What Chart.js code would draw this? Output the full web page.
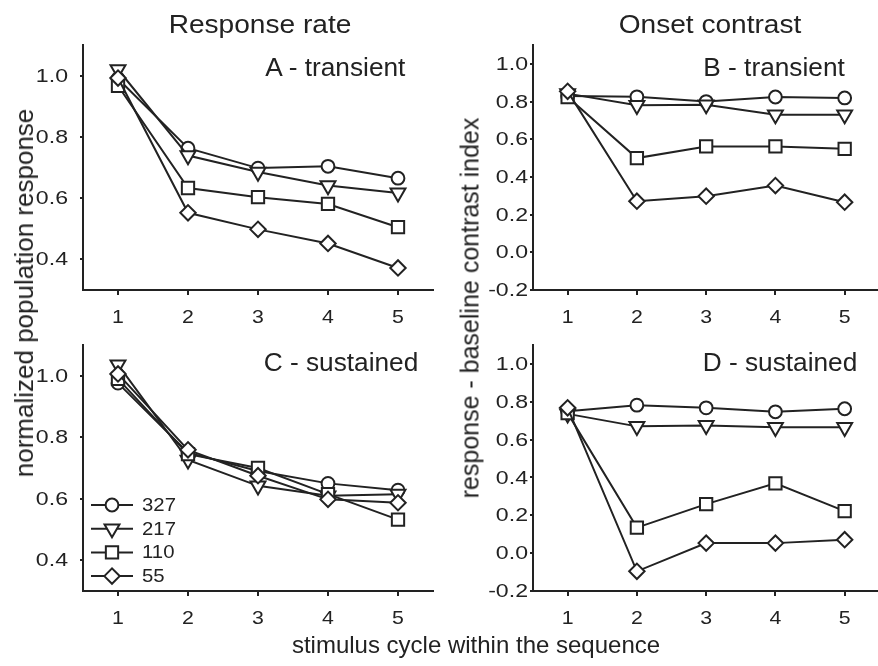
<!DOCTYPE html>
<html lang="en">
<head>
  <meta charset="UTF-8">
  <title>Response rate / Onset contrast</title>
  <script src="https://cdn.jsdelivr.net/npm/chart.js"></script>
  <style>
    html, body {
      margin: 0;
      padding: 0;
      width: 878px;
      height: 666px;
      overflow: hidden;
      background: #fff;
      font-family: "Liberation Sans", Arial, sans-serif;
      color: #222;
    }
    .panel {
      position: absolute;
    }
    .txt {
      position: absolute;
      white-space: nowrap;
      line-height: 1;
      z-index: 2;
    }
  </style>
</head>
<body>

  <div class="panel" style="left:0px; top:30px; width:445px; height:305px;"><canvas id="chartA"></canvas></div>
  <div class="panel" style="left:450px; top:30px; width:440px; height:305px;"><canvas id="chartB"></canvas></div>
  <div class="panel" style="left:0px; top:330px; width:445px; height:305px;"><canvas id="chartC"></canvas></div>
  <div class="panel" style="left:450px; top:330px; width:440px; height:305px;"><canvas id="chartD"></canvas></div>

  <div class="txt" style="left:260px; top:11px; font-size:26px; transform:translateX(-50%) scaleX(1.08);">Response rate</div>
  <div class="txt" style="left:710px; top:11px; font-size:26px; transform:translateX(-50%) scaleX(1.08);">Onset contrast</div>

  <div class="txt" style="right:473px; top:55px; font-size:25px; transform-origin:right; transform:scaleX(1.05);">A - transient</div>
  <div class="txt" style="right:33px; top:55px; font-size:25px; transform-origin:right; transform:scaleX(1.05);">B - transient</div>
  <div class="txt" style="right:460px; top:350px; font-size:25px; transform-origin:right; transform:scaleX(1.05);">C - sustained</div>
  <div class="txt" style="right:21px; top:350px; font-size:25px; transform-origin:right; transform:scaleX(1.05);">D - sustained</div>

  <div class="txt" style="left:24px; top:293px; font-size:26px; transform:translate(-50%,-50%) rotate(-90deg);">normalized population response</div>
  <div class="txt" style="left:470px; top:308px; font-size:25px; transform:translate(-50%,-50%) rotate(-90deg);">response - baseline contrast index</div>

  <div class="txt" style="left:476px; top:633px; font-size:24px; transform:translateX(-50%);">stimulus cycle within the sequence</div>

  <script>
    // x values (stimulus cycle) and tick labels
    const cycles = [1, 2, 3, 4, 5];
    const respTicks = [0.4, 0.6, 0.8, 1.0];
    const contrastTicks = [-0.2, 0.0, 0.2, 0.4, 0.6, 0.8, 1.0];

    const seriesNames = ['327', '217', '110', '55'];

    // A - transient, response rate
    const respTransient327 = [0.99, 0.763, 0.698, 0.704, 0.665];
    const respTransient217 = [1.02, 0.739, 0.685, 0.641, 0.617];
    const respTransient110 = [0.967, 0.633, 0.603, 0.581, 0.505];
    const respTransient55  = [0.992, 0.552, 0.498, 0.452, 0.372];

    // B - transient, onset contrast
    const contTransient327 = [0.83, 0.825, 0.80, 0.824, 0.819];
    const contTransient217 = [0.842, 0.78, 0.783, 0.73, 0.73];
    const contTransient110 = [0.824, 0.50, 0.562, 0.562, 0.549];
    const contTransient55  = [0.854, 0.271, 0.298, 0.354, 0.266];

    // C - sustained, response rate
    const respSustained327 = [0.976, 0.75, 0.69, 0.65, 0.628];
    const respSustained217 = [1.036, 0.726, 0.642, 0.61, 0.615];
    const respSustained110 = [0.99, 0.745, 0.70, 0.615, 0.532];
    const respSustained55  = [1.006, 0.759, 0.675, 0.598, 0.587];

    // D - sustained, onset contrast
    const contSustained327 = [0.75, 0.782, 0.768, 0.747, 0.763];
    const contSustained217 = [0.736, 0.67, 0.675, 0.665, 0.665];
    const contSustained110 = [0.74, 0.135, 0.259, 0.369, 0.222];
    const contSustained55  = [0.768, -0.096, 0.053, 0.053, 0.071];

    const INK = '#222';
    const FONT = '"Liberation Sans", Arial, sans-serif';

    // marker look per series: circle, down triangle, square, diamond
    const markers = [
      { pointStyle: 'circle', rotation: 0, radius: 6.4, order: 4 },
      { pointStyle: 'triangle', rotation: 180, radius: 8.6, order: 3 },
      { pointStyle: 'rect', rotation: 0, radius: 8.7, order: 2 },
      { pointStyle: 'rectRot', rotation: 0, radius: 7.7, order: 1 }
    ];

    function makeDatasets(lists) {
      return lists.map((vals, i) => ({
        label: seriesNames[i],
        data: vals.map((v, k) => ({ x: cycles[k], y: v })),
        borderColor: INK,
        borderWidth: 2,
        backgroundColor: '#fff',
        pointStyle: markers[i].pointStyle,
        pointRotation: markers[i].rotation,
        pointRadius: markers[i].radius,
        pointBorderWidth: 2,
        pointBackgroundColor: '#fff',
        pointBorderColor: INK,
        order: markers[i].order,
        tension: 0,
        fill: false
      }));
    }

    // tick labels drawn a bit wider, as in the original figure
    const tickText = {
      id: 'tickText',
      afterDraw(chart, args, opts) {
        const { ctx, scales: { x, y } } = chart;
        ctx.save();
        ctx.fillStyle = INK;
        ctx.font = '18.5px ' + FONT;
        y.ticks.forEach(t => {
          ctx.save();
          ctx.translate(y.right - opts.yGap, y.getPixelForValue(t.value));
          ctx.scale(1.25, 1);
          ctx.textAlign = 'right';
          ctx.textBaseline = 'middle';
          ctx.fillText(t.label, 0, 1);
          ctx.restore();
        });
        x.ticks.forEach(t => {
          ctx.save();
          ctx.translate(x.getPixelForValue(t.value), x.top + 19);
          ctx.scale(1.15, 1);
          ctx.textAlign = 'center';
          ctx.textBaseline = 'top';
          ctx.fillText(t.label, 0, 0);
          ctx.restore();
        });
        ctx.restore();
      }
    };

    // line + marker legend in the lower left corner of panel C
    const cornerLegend = {
      id: 'cornerLegend',
      afterDraw(chart, args, opts) {
        if (!opts.show) return;
        const { ctx, chartArea } = chart;
        const x0 = chartArea.left + 8, x1 = chartArea.left + 50;
        ctx.save();
        chart.data.datasets.forEach((ds, i) => {
          const y = chartArea.bottom - 86 + i * 23.7;
          ctx.strokeStyle = INK;
          ctx.lineWidth = 2;
          ctx.beginPath();
          ctx.moveTo(x0, y);
          ctx.lineTo(x1, y);
          ctx.stroke();
          ctx.fillStyle = '#fff';
          Chart.helpers.drawPoint(ctx, {
            pointStyle: ds.pointStyle,
            rotation: ds.pointRotation,
            radius: ds.pointRadius,
            borderWidth: 2
          }, (x0 + x1) / 2, y);
          ctx.save();
          ctx.fillStyle = INK;
          ctx.font = '18.5px ' + FONT;
          ctx.textBaseline = 'middle';
          ctx.translate(x1 + 9, y + 1);
          ctx.scale(1.1, 1);
          ctx.fillText(ds.label, 0, 0);
          ctx.restore();
        });
        ctx.restore();
      }
    };

    function makeChart(id, lists, yMin, yMax, yTicks, xAxisHeight, leftColumn, showLegend) {
      const ctx = document.getElementById(id).getContext('2d');
      return new Chart(ctx, {
        type: 'line',
        data: { datasets: makeDatasets(lists) },
        plugins: [tickText, cornerLegend],
        options: {
          responsive: true,
          maintainAspectRatio: false,
          animation: false,
          layout: { padding: { left: 0, top: 15, right: leftColumn ? 12 : 5, bottom: 0 } },
          plugins: {
            legend: { display: false },
            tooltip: { enabled: false },
            tickText: { yGap: leftColumn ? 15 : 5 },
            cornerLegend: { show: showLegend }
          },
          scales: {
            x: {
              type: 'linear',
              min: 0.5,
              max: 5.5,
              afterBuildTicks: s => { s.ticks = cycles.map(v => ({ value: v })); },
              afterFit: s => { s.height = xAxisHeight; },
              ticks: { color: 'rgba(0,0,0,0)', font: { size: 18 }, callback: v => String(v) },
              grid: { drawOnChartArea: false, drawTicks: true, tickLength: 5, color: INK, lineWidth: 2 },
              border: { color: INK, width: 2 }
            },
            y: {
              type: 'linear',
              min: yMin,
              max: yMax,
              afterBuildTicks: s => { s.ticks = yTicks.map(v => ({ value: v })); },
              afterFit: s => { s.width = 83; },
              ticks: { color: 'rgba(0,0,0,0)', font: { size: 18 }, callback: v => v.toFixed(1) },
              grid: { drawOnChartArea: false, drawTicks: true, tickLength: 3, color: INK, lineWidth: 2 },
              border: { color: INK, width: 2 }
            }
          }
        }
      });
    }

    makeChart('chartA', [respTransient327, respTransient217, respTransient110, respTransient55], 0.3, 1.1, respTicks, 45, true, false);
    makeChart('chartB', [contTransient327, contTransient217, contTransient110, contTransient55], -0.2, 1.1, contrastTicks, 45, false, false);
    makeChart('chartC', [respSustained327, respSustained217, respSustained110, respSustained55], 0.3, 1.1, respTicks, 44, true, true);
    makeChart('chartD', [contSustained327, contSustained217, contSustained110, contSustained55], -0.2, 1.1, contrastTicks, 44, false, false);
  </script>

</body>
</html>
